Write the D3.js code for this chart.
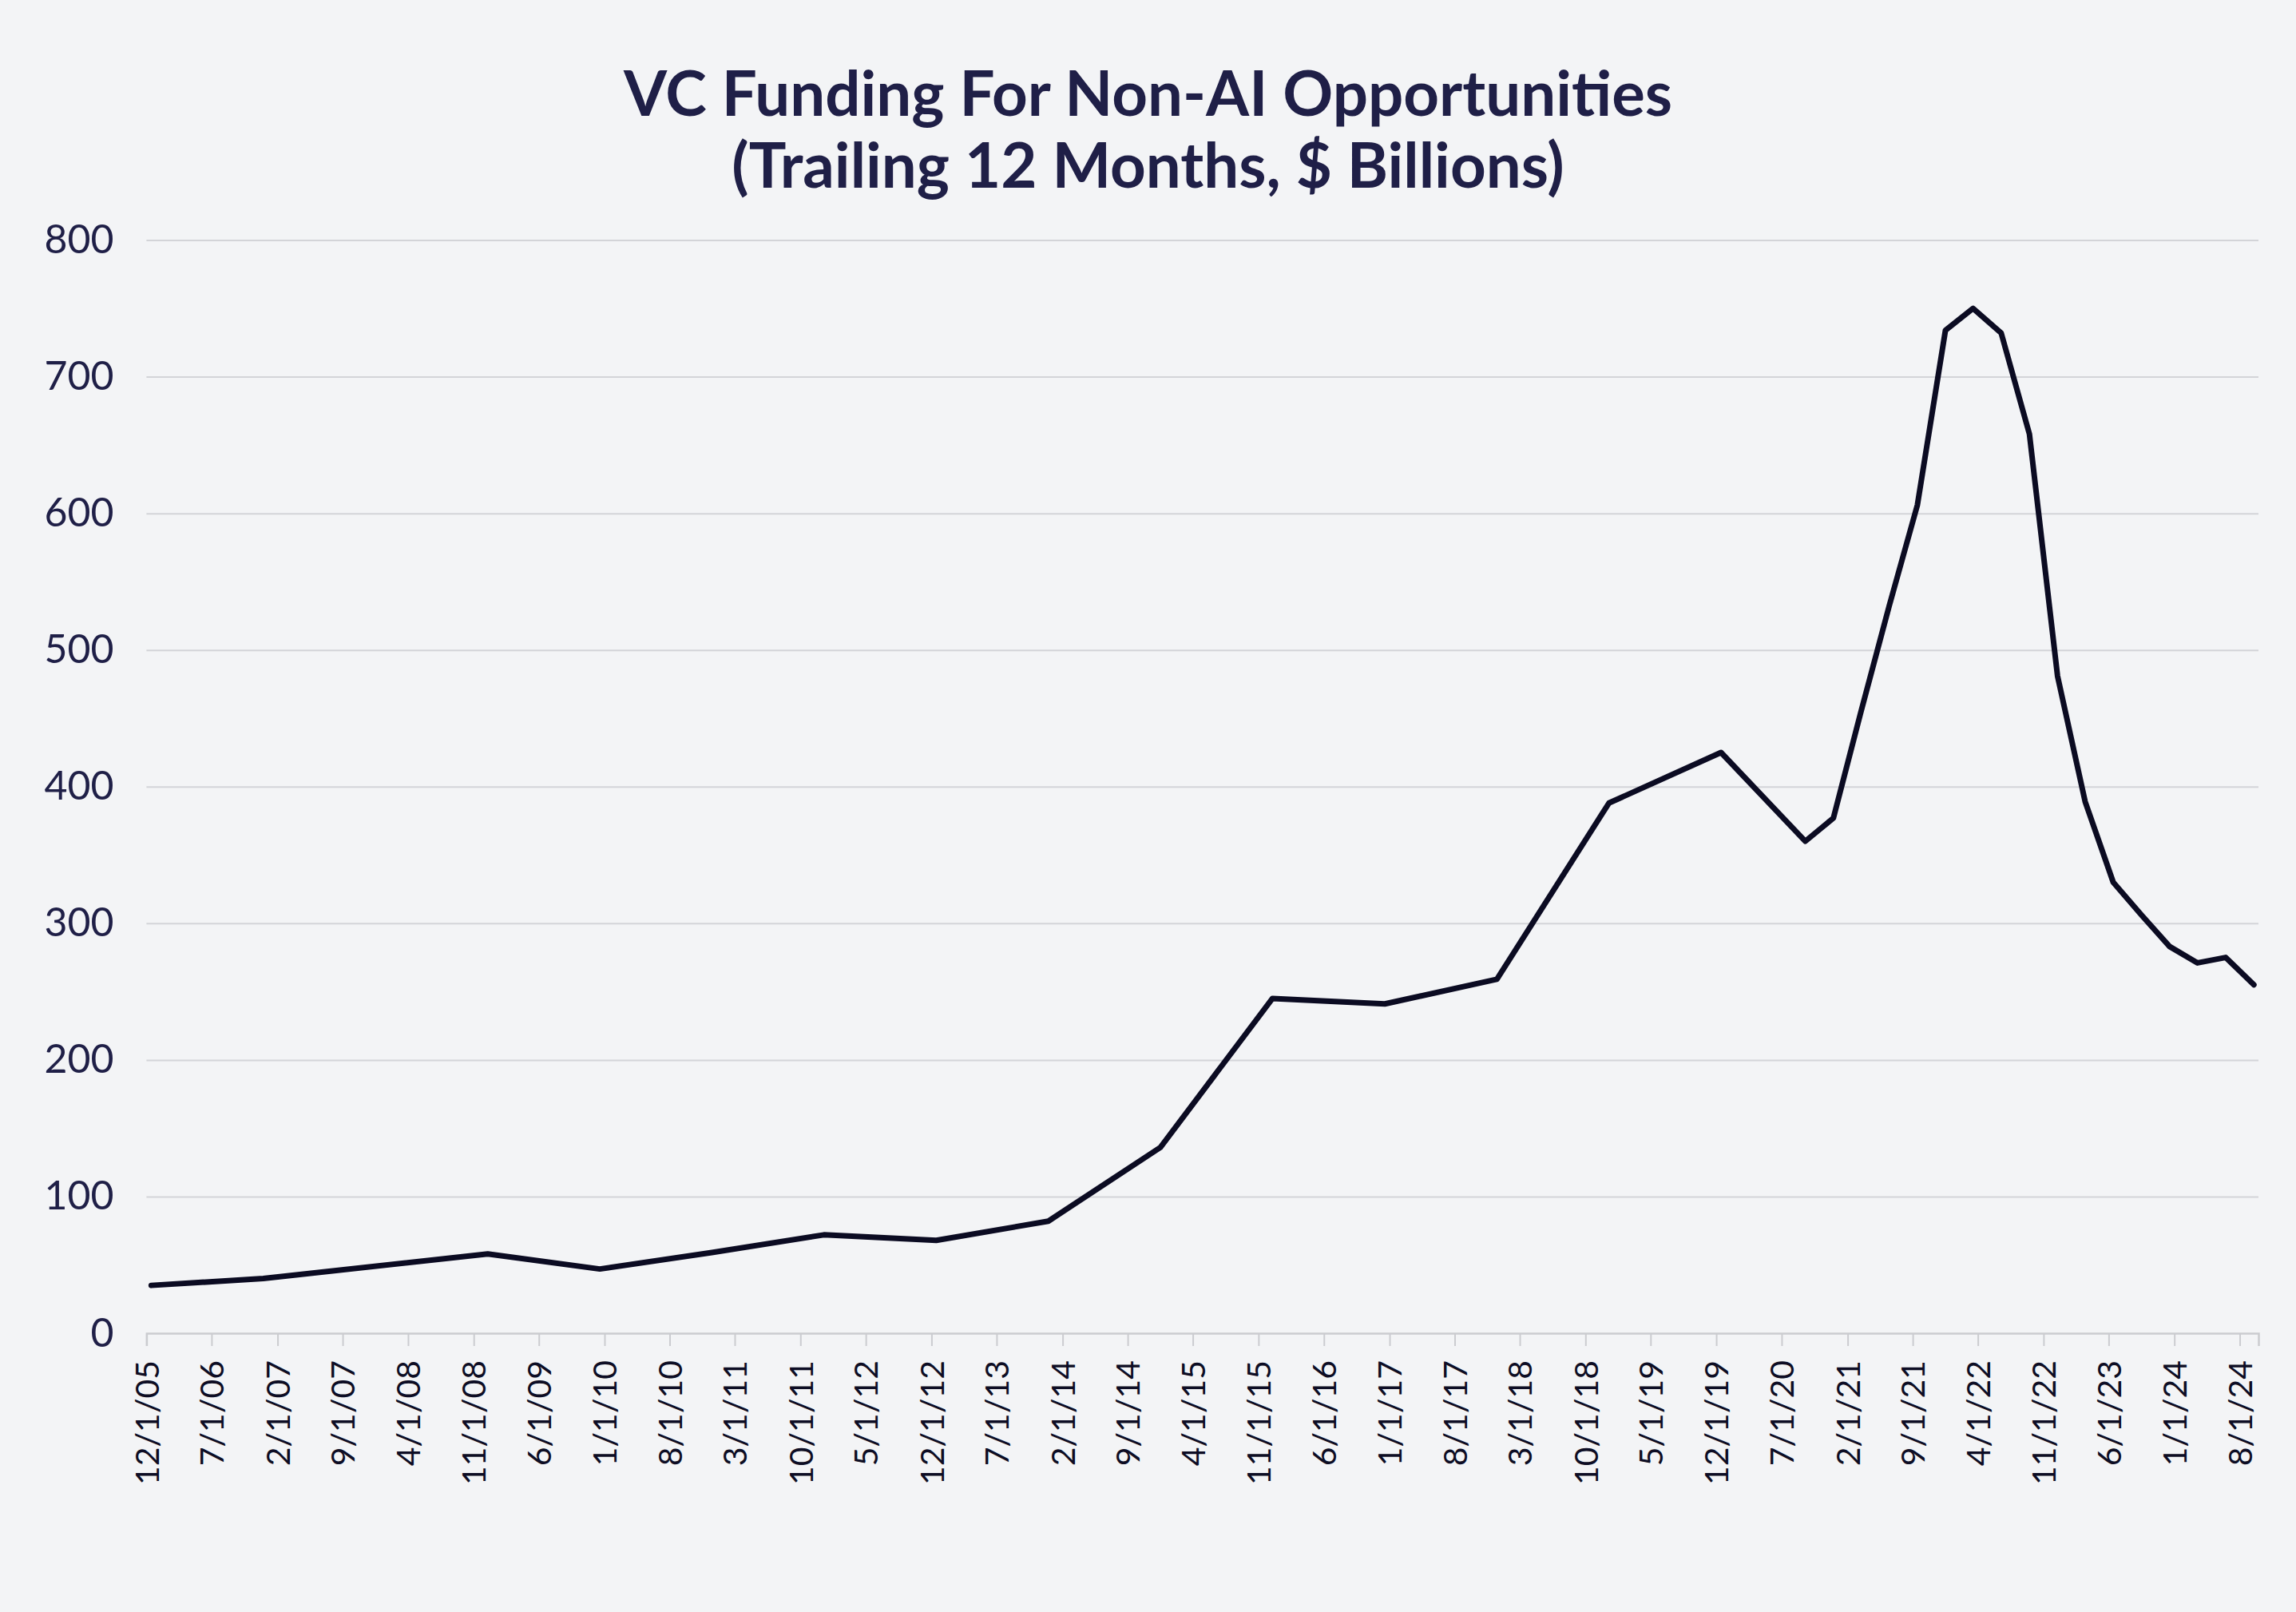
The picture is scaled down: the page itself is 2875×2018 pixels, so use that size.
<!DOCTYPE html>
<html>
<head>
<meta charset="utf-8">
<script src="https://cdn.jsdelivr.net/npm/d3@7"></script>
<style>
  html, body { margin: 0; padding: 0; background: #f3f4f6; }
  svg { display: block; }
</style>
</head>
<body>
<div id="app"></div>
<script>
// data points (month of observation) and TTM funding, $B
const months = [
  "2005-12", "2006-12", "2008-12", "2009-12", "2010-12", "2011-12", "2012-12", "2013-12",
  "2014-12", "2015-12", "2016-12", "2017-12", "2018-12", "2019-12", "2020-09", "2020-12",
  "2021-03", "2021-06", "2021-09", "2021-12", "2022-03", "2022-06", "2022-09", "2022-12",
  "2023-03", "2023-06", "2023-09", "2023-12", "2024-03", "2024-06", "2024-09"
];
const funding = [
  35, 40, 58, 47, 59, 72, 68, 82,
  136, 245, 241, 259, 388, 425, 360, 377,
  455, 532, 606, 734, 750, 732, 658, 481,
  389, 330, 306, 283, 271, 275, 255
];
const xTickLabels = [
  "12/1/05", "7/1/06", "2/1/07", "9/1/07", "4/1/08", "11/1/08", "6/1/09", "1/1/10",
  "8/1/10", "3/1/11", "10/1/11", "5/1/12", "12/1/12", "7/1/13", "2/1/14", "9/1/14",
  "4/1/15", "11/1/15", "6/1/16", "1/1/17", "8/1/17", "3/1/18", "10/1/18", "5/1/19",
  "12/1/19", "7/1/20", "2/1/21", "9/1/21", "4/1/22", "11/1/22", "6/1/23", "1/1/24", "8/1/24"
];
const yTicks = [0, 100, 200, 300, 400, 500, 600, 700, 800];
const titleLines = ["VC Funding For Non-AI Opportunities", "(Trailing 12 Months, $ Billions)"];

const width = 2875, height = 2018;
const margin = { top: 300.5, right: 47, bottom: 349, left: 183.4 };

const parseMonth = d3.timeParse("%Y-%m");
const parseTick = d3.timeParse("%m/%d/%y");

const data = months.map((m, i) => ({ date: parseMonth(m), value: funding[i] }));
const tickDates = xTickLabels.map(parseTick);

const svg = d3.select('#app').append('svg')
    .attr('width', width).attr('height', height);

svg.append('rect').attr('width', width).attr('height', height).attr('fill', '#f3f4f6');

const x = d3.scaleTime()
    .domain([tickDates[0], d3.timeMonth.offset(data[data.length - 1].date, 1)])
    .range([margin.left, width - margin.right]);

const y = d3.scaleLinear()
    .domain([0, 800])
    .range([height - margin.bottom, margin.top]);

// points sit in the middle of their month slot
const xMid = d => (x(d) + x(d3.timeMonth.offset(d, 1))) / 2;

// title
svg.append('g').selectAll('text').data(titleLines)
    .enter().append('text')
    .attr('x', width / 2)
    .attr('y', (d, i) => 145 + i * 90)
    .attr('text-anchor', 'middle')
    .attr('font-family', 'Lato, sans-serif')
    .attr('font-weight', 700)
    .attr('font-size', 78)
    .attr('fill', '#1f1f47')
    .text(d => d);

// gridlines + y labels
const yAxis = svg.append('g')
    .attr('transform', `translate(${margin.left},0)`)
    .call(d3.axisLeft(y).tickValues(yTicks).tickSize(-(width - margin.left - margin.right)).tickPadding(41));
yAxis.select('.domain').remove();
yAxis.selectAll('.tick line')
    .attr('stroke', d => d === 0 ? 'none' : '#d3d4d8')
    .attr('stroke-width', 2);
yAxis.selectAll('.tick text')
    .attr('font-family', 'Lato, sans-serif')
    .attr('font-size', 50)
    .attr('fill', '#1f1f47');

// x axis
const xAxis = svg.append('g')
    .attr('transform', `translate(0,${height - margin.bottom})`)
    .call(d3.axisBottom(x).tickValues(tickDates).tickFormat((d, i) => xTickLabels[i]).tickSizeOuter(0).tickSize(16));
xAxis.select('.domain').attr('stroke', '#cbccd0').attr('stroke-width', 2.5);
xAxis.selectAll('.tick line').attr('stroke', '#cbccd0').attr('stroke-width', 2);
xAxis.selectAll('.tick text')
    .attr('font-family', 'Lato, sans-serif')
    .attr('font-size', 41)
    .attr('fill', '#0d0d24')
    .attr('text-anchor', 'end')
    .attr('transform', 'rotate(-90)')
    .attr('x', -34)
    .attr('y', 0)
    .attr('dy', '0.36em');

// the series line
const line = d3.line()
    .x(d => xMid(d.date))
    .y(d => y(d.value));

svg.append('path')
    .datum(data)
    .attr('fill', 'none')
    .attr('stroke', '#0b0b22')
    .attr('stroke-width', 7)
    .attr('stroke-linejoin', 'round')
    .attr('stroke-linecap', 'round')
    .attr('d', line);
</script>
</body>
</html>
